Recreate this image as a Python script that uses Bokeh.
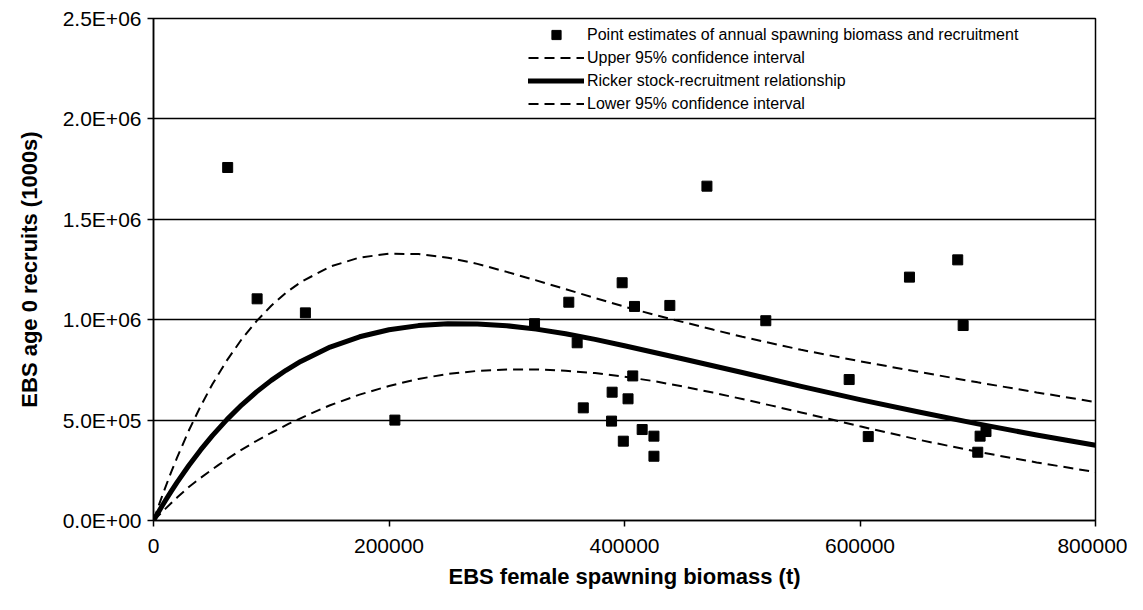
from bokeh.plotting import figure
from bokeh.models import Range1d, FixedTicker, Legend, LegendItem
from bokeh.embed import file_html
from bokeh.resources import INLINE

# ---- data ----
spawning_biomass = [63000, 88000, 129000, 205000, 323600, 352700, 398000, 408500,
                    438500, 359800, 407000, 389500, 403000, 365000, 389000, 415000,
                    425000, 399000, 425000, 470000, 520000, 590800, 607000, 642000,
                    683000, 687600, 702000, 707000, 700000]
recruits = [1758000, 1104000, 1034000, 500000, 980000, 1087000, 1184000, 1066000,
            1071000, 885000, 720000, 639000, 606000, 561000, 495000, 453000,
            420000, 395000, 320000, 1665000, 995000, 702000, 418000, 1212000,
            1298000, 971000, 420000, 443000, 340000]

ricker_s = [0, 5000, 10000, 15000, 20000, 30000, 40000, 50000, 62500, 75000, 87500,
            100000, 112500, 125000, 150000, 175000, 200000, 225000, 250000, 275000,
            300000, 325000, 350000, 375000, 400000, 450000, 500000, 550000, 600000,
            650000, 700000, 750000, 800000]
ricker_r = [0, 50300, 98600, 145100, 189800, 274000, 351500, 422900, 503700, 576200,
            640600, 697800, 748100, 792300, 863500, 915000, 949900, 970600, 979600,
            978800, 969900, 953000, 930000, 902000, 870000, 804000, 737000, 668000,
            602000, 540000, 481000, 426000, 375000]

upper_s = [0, 5000, 10000, 15000, 20000, 30000, 40000, 50000, 62500, 75000, 87500,
           100000, 112500, 125000, 150000, 175000, 200000, 225000, 250000, 275000,
           300000, 325000, 350000, 375000, 400000, 425000, 450000, 475000, 500000,
           550000, 600000, 650000, 700000, 750000, 800000]
upper_r = [0, 84000, 164000, 240500, 313000, 448000, 569000, 678500, 799000, 903500,
           993000, 1069500, 1134000, 1187000, 1264500, 1309500, 1328500, 1327000,
           1309000, 1278000, 1238000, 1196000, 1152000, 1108000, 1065000, 1025000,
           988000, 951000, 915000, 850000, 793000, 740000, 688000, 638000, 590000]

lower_s = [0, 10000, 20000, 30000, 40000, 55000, 70000, 85000, 100000, 115000, 130000,
           150000, 175000, 200000, 225000, 250000, 275000, 300000, 325000, 350000,
           375000, 400000, 425000, 450000, 475000, 500000, 525000, 550000, 575000,
           600000, 650000, 700000, 750000, 800000]
lower_r = [0, 58000, 114000, 167000, 212000, 276000, 335000, 388000, 437000, 482000,
           523000, 574000, 627000, 670000, 705000, 730000, 745000, 752000, 752000,
           746000, 734000, 716000, 694000, 667000, 637000, 605000, 572000, 538000,
           504000, 469000, 402000, 342000, 289000, 241000]

x_ticks = [0, 200000, 400000, 600000, 800000]
x_tick_labels = ["0", "200000", "400000", "600000", "800000"]
y_ticks = [0, 500000, 1000000, 1500000, 2000000, 2500000]
y_tick_labels = ["0.0E+00", "5.0E+05", "1.0E+06", "1.5E+06", "2.0E+06", "2.5E+06"]

legend_labels = ["Point estimates of annual spawning biomass and recruitment",
                 "Upper 95% confidence interval",
                 "Ricker stock-recruitment relationship",
                 "Lower 95% confidence interval"]

FONT = "Liberation Sans"

p = figure(width=1127, height=600, output_backend="svg", toolbar_location=None,
           x_range=Range1d(0, 800000), y_range=Range1d(0, 2500000),
           min_border_left=153, min_border_right=32, min_border_top=18,
           min_border_bottom=80)

p.background_fill_color = "white"
p.border_fill_color = "white"
p.outline_line_color = "black"
p.outline_line_width = 1.5

p.xgrid.grid_line_color = None
p.ygrid.grid_line_color = "black"
p.ygrid.grid_line_width = 1.5
p.ygrid.ticker = FixedTicker(ticks=y_ticks)

p.xaxis.ticker = FixedTicker(ticks=x_ticks)
p.yaxis.ticker = FixedTicker(ticks=y_ticks)
p.xaxis.major_label_overrides = {t: l for t, l in zip(x_ticks, x_tick_labels)}
p.yaxis.major_label_overrides = {t: l for t, l in zip(y_ticks, y_tick_labels)}

for ax in (p.xaxis, p.yaxis):
    ax.axis_line_color = "black"
    ax.axis_line_width = 1.5
    ax.major_tick_line_color = "black"
    ax.major_tick_line_width = 1.5
    ax.major_tick_in = 0
    ax.major_tick_out = 6
    ax.minor_tick_line_color = None
    ax.major_label_text_font = FONT
    ax.major_label_text_font_size = "21px"
    ax.major_label_text_color = "black"
    ax.axis_label_text_font = FONT
    ax.axis_label_text_font_size = "22px"
    ax.axis_label_text_font_style = "bold"
    ax.axis_label_text_color = "black"

p.xaxis.axis_label = "EBS female spawning biomass (t)"
p.yaxis.axis_label = "EBS age 0 recruits (1000s)"
p.xaxis.major_label_standoff = 12
p.xaxis.axis_label_standoff = 8
p.yaxis.major_label_standoff = 6
p.yaxis.axis_label_standoff = 18

r_pts = p.scatter(spawning_biomass, recruits, marker="square", size=10,
                  fill_color="black", line_color="black")
r_up = p.line(upper_s, upper_r, line_color="black", line_width=2, line_dash="10 6")
r_rk = p.line(ricker_s, ricker_r, line_color="black", line_width=5,
              line_join="round", line_cap="round")
r_lo = p.line(lower_s, lower_r, line_color="black", line_width=2, line_dash="10 6")

legend = Legend(items=[LegendItem(label=legend_labels[0], renderers=[r_pts]),
                       LegendItem(label=legend_labels[1], renderers=[r_up]),
                       LegendItem(label=legend_labels[2], renderers=[r_rk]),
                       LegendItem(label=legend_labels[3], renderers=[r_lo])],
                location=(375, 405))
legend.background_fill_alpha = 0
legend.border_line_alpha = 0
legend.padding = 0
legend.margin = 0
legend.spacing = 0
legend.glyph_width = 56
legend.glyph_height = 23
legend.label_height = 23
legend.label_standoff = 3
legend.label_text_font = FONT
legend.label_text_font_size = "16px"
legend.label_text_color = "black"
p.add_layout(legend, "center")

open("out.html", "w").write(file_html(p, INLINE))
